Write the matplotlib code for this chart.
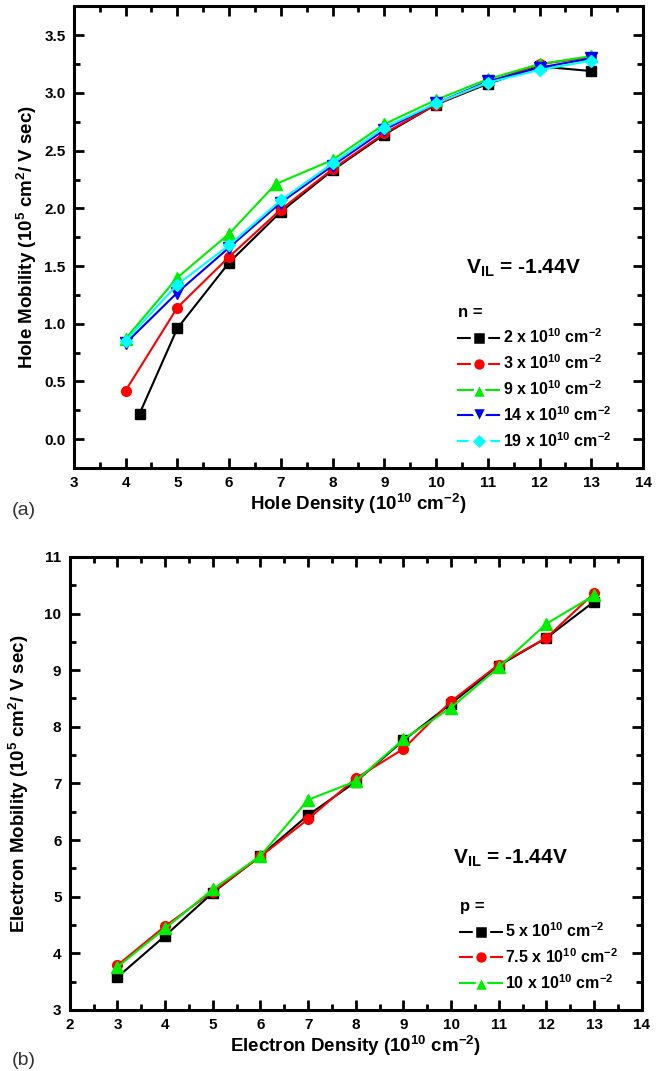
import matplotlib
matplotlib.use("Agg")
import matplotlib.pyplot as plt
from matplotlib.ticker import MultipleLocator, FormatStrFormatter
from matplotlib.lines import Line2D

plt.rcParams['font.family'] = ['Liberation Sans', 'DejaVu Sans']
plt.rcParams['font.weight'] = 'bold'
plt.rcParams['mathtext.fontset'] = 'custom'
plt.rcParams['mathtext.rm'] = 'Liberation Sans:bold'
plt.rcParams['mathtext.default'] = 'rm'

# ---- Panel (a) data ----
hole_x_black = [4.27, 5, 6, 7, 8, 9, 10, 11, 12, 13]
hole_black = [0.22, 0.96, 1.53, 1.97, 2.33, 2.64, 2.90, 3.08, 3.23, 3.19]
hole_x = [4, 5, 6, 7, 8, 9, 10, 11, 12, 13]
hole_red = [0.42, 1.14, 1.58, 1.99, 2.34, 2.65, 2.90, 3.09, 3.25, 3.31]
hole_x_green = [4, 5, 6, 6.9, 8, 9, 10, 11, 12, 13]
hole_green = [0.87, 1.40, 1.78, 2.21, 2.42, 2.73, 2.94, 3.12, 3.25, 3.32]
hole_blue = [0.83, 1.27, 1.66, 2.05, 2.37, 2.68, 2.91, 3.10, 3.22, 3.30]
hole_cyan = [0.85, 1.34, 1.68, 2.07, 2.39, 2.70, 2.91, 3.09, 3.20, 3.28]
labels_a = [r'2 x 10$^{10}$ cm$^{-2}$', r'3 x 10$^{10}$ cm$^{-2}$',
            r'9 x 10$^{10}$ cm$^{-2}$', r'14 x 10$^{10}$ cm$^{-2}$',
            r'19 x 10$^{10}$ cm$^{-2}$']

# ---- Panel (b) data ----
elec_x = [3, 4, 5, 6, 7, 8, 9, 10, 11, 12, 13]
elec_black = [3.58, 4.31, 5.07, 5.72, 6.44, 7.03, 7.76, 8.41, 9.08, 9.57, 10.21]
elec_red = [3.79, 4.48, 5.09, 5.71, 6.37, 7.09, 7.61, 8.45, 9.10, 9.57, 10.36]
elec_green = [3.76, 4.44, 5.13, 5.72, 6.71, 7.04, 7.78, 8.34, 9.05, 9.82, 10.32]
labels_b = [r'5 x 10$^{10}$ cm$^{-2}$', r'7.5 x 10$^{10}$ cm$^{-2}$',
            r'10 x 10$^{10}$ cm$^{-2}$']

styles_a = [('s', 'black', 7), ('o', '#ff0000', 7), ('^', '#00ee00', 8),
            ('v', '#0000ff', 8), ('D', '#00ffff', 6)]
styles_b = styles_a[:3]

fig = plt.figure(figsize=(6.65, 10.71), dpi=100)
ax1 = fig.add_axes([0.111, 0.563, 0.856, 0.431])
ax2 = fig.add_axes([0.105, 0.057, 0.860, 0.423])

lw = 1.5
series_a = [(hole_x_black, hole_black), (hole_x, hole_red), (hole_x_green, hole_green),
            (hole_x, hole_blue), (hole_x, hole_cyan)]
for (xs, ys), (m, c, ms) in zip(series_a, styles_a):
    ax1.plot(xs, ys, '-', marker=m, color=c, lw=lw, ms=ms)

series_b = [(elec_x, elec_black), (elec_x, elec_red), (elec_x, elec_green)]
for (xs, ys), (m, c, ms) in zip(series_b, styles_b):
    ax2.plot(xs, ys, '-', marker=m, color=c, lw=lw, ms=ms)

ax1.set_xlim(3, 14)
ax1.set_ylim(-0.25, 3.75)
ax1.xaxis.set_major_locator(MultipleLocator(1))
ax1.xaxis.set_minor_locator(MultipleLocator(0.5))
ax1.yaxis.set_major_locator(MultipleLocator(0.5))
ax1.yaxis.set_minor_locator(MultipleLocator(0.25))
ax1.yaxis.set_major_formatter(FormatStrFormatter('%.1f'))

ax2.set_xlim(2, 14)
ax2.set_ylim(3, 11)
ax2.xaxis.set_major_locator(MultipleLocator(1))
ax2.xaxis.set_minor_locator(MultipleLocator(0.5))
ax2.yaxis.set_major_locator(MultipleLocator(1))
ax2.yaxis.set_minor_locator(MultipleLocator(0.5))

for ax in (ax1, ax2):
    for s in ax.spines.values():
        s.set_linewidth(2.2)
    ax.tick_params(which='both', direction='in', top=True, right=True, width=2)
    ax.tick_params(which='major', length=7, labelsize=11, pad=6)
    ax.tick_params(which='minor', length=4)
    for lab in ax.get_xticklabels() + ax.get_yticklabels():
        lab.set_fontweight('bold')

ax1.set_xlabel(r'Hole Density (10$^{10}$ cm$^{-2}$)', fontsize=13.5, fontweight='bold', labelpad=1)
ax1.set_ylabel(r'Hole Mobility (10$^5$ cm$^2$/ V sec)', fontsize=13.5, fontweight='bold', labelpad=4)
ax2.set_xlabel(r'Electron Density (10$^{10}$ cm$^{-2}$)', fontsize=13.5, fontweight='bold', labelpad=1)
ax2.set_ylabel(r'Electron Mobility (10$^5$ cm$^2$/ V sec)', fontsize=13.5, fontweight='bold', labelpad=10)

ax1.text(10.58, 1.48, r'V$_{\mathregular{IL}}$ = -1.44V', fontsize=15, fontweight='bold', va='center')
ax2.text(10.03, 5.68, r'V$_{\mathregular{IL}}$ = -1.44V', fontsize=15, fontweight='bold', va='center')


def proxy(m, c, ms):
    w = 2.5
    return Line2D([], [], color=c, lw=lw, marker=m, ms=ms + w + 0.5, mfc=c,
                  mec='white', mew=w)


def make_legend(ax, styles, labels, title, x0, y0):
    handles = [proxy(*st) for st in styles]
    leg = ax.legend(handles, labels, loc='lower left', bbox_to_anchor=(x0, y0),
                    frameon=False, title=title, fontsize=11.5, title_fontsize=12,
                    handlelength=2.6, handletextpad=0.2, labelspacing=0.45,
                    borderaxespad=0.3)
    leg._legend_box.align = 'left'
    plt.setp(leg.get_title(), fontweight='bold')
    for t in leg.get_texts():
        t.set_fontweight('bold')
    return leg


make_legend(ax1, styles_a, labels_a, 'n =', 0.655, 0.015)
make_legend(ax2, styles_b, labels_b, 'p =', 0.663, 0.015)

fig.text(0.018, 0.519, '(a)', fontsize=14, fontweight='normal', color='#333333')
fig.text(0.018, 0.0056, '(b)', fontsize=14, fontweight='normal', color='#333333')

fig.savefig('out.png', dpi=100)
